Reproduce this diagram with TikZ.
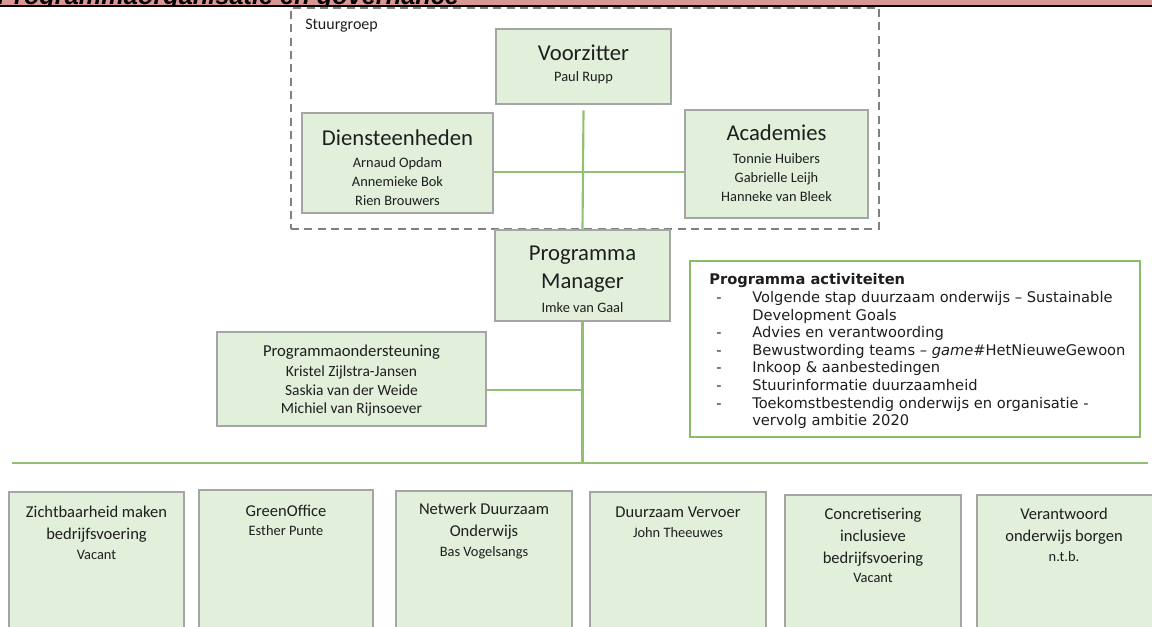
\documentclass[tikz,border=0pt]{standalone}
\usepackage{fontspec}
\setmainfont{Carlito}
\newfontfamily\actfont{DejaVu Sans}
\newfontfamily\barfont{Liberation Sans}
\usetikzlibrary{fit}
\newdimen\pxu \pxu=0.75pt
\definecolor{boxfill}{RGB}{226,239,218}
\definecolor{boxline}{RGB}{165,165,165}
\definecolor{linkgreen}{RGB}{145,192,115}
\definecolor{actline}{RGB}{135,188,105}
\definecolor{pinkbar}{RGB}{218,150,148}
\definecolor{dashgray}{RGB}{128,128,128}
\definecolor{ink}{RGB}{30,30,30}
\newcommand\bul{\makebox[43\pxu][l]{\hspace*{7\pxu}-}}
\tikzset{
  orgbox/.style={draw=boxline, line width=1.4pt, fill=boxfill, inner sep=0pt},
  link/.style={draw=linkgreen, line width=1.6pt},
  bigttl/.style={font=\fontsize{17}{21}\selectfont, text=ink, inner sep=0pt, align=center},
  nm/.style={font=\fontsize{10.8}{14.25}\selectfont, text=ink, inner sep=0pt, align=center},
  midttl/.style={font=\fontsize{12.4}{16.5}\selectfont, text=ink, inner sep=0pt, align=center},
  smallnm/.style={font=\fontsize{10.8}{14}\selectfont, text=ink, inner sep=0pt, align=center},
}
\begin{document}
\begin{tikzpicture}[x=0.75pt,y=-0.75pt]
\useasboundingbox (0,0) rectangle (1152,626);
\clip (0,0) rectangle (1152,626);
% title bar
\fill[pinkbar] (0,0) rectangle (1152,4.5);
\begin{scope}
  \clip (0,0) rectangle (1152,6.5);
  \node[anchor=base west, inner sep=0pt, font=\barfont\bfseries\itshape\fontsize{19}{22}\selectfont] (bar) at (-3,4) {Programmaorganisatie en governance};
\end{scope}
\fill[black] (0,4.5) rectangle (1152,6.5);

% Stuurgroep container
\coordinate (sgA) at (291,8);
\coordinate (sgB) at (879,229);
\node[fit=(sgA)(sgB), inner sep=0pt, draw=dashgray, line width=1.2pt, dash pattern=on 6pt off 4pt] (sg) {};
\node[anchor=west, inner sep=0pt, font=\fontsize{12}{14}\selectfont, text=ink] (sglab) at (305,26) {Stuurgroep};

% Voorzitter
\coordinate (vzA) at (496,29); \coordinate (vzB) at (671,104);
\node[orgbox, fit=(vzA)(vzB)] (vz) {};
\node[bigttl] (vzt) at (583.5,53) {Voorzitter};
\node[nm] (vzn) at (583.5,78) {Paul Rupp};

% Diensteenheden
\coordinate (deA) at (302,113); \coordinate (deB) at (493,213);
\node[orgbox, fit=(deA)(deB)] (de) {};
\node[bigttl] (det) at (397.5,138) {Diensteenheden};
\node[nm] (den) at (397.5,182) {Arnaud Opdam\\Annemieke Bok\\Rien Brouwers};

% Academies
\coordinate (acA) at (685,110); \coordinate (acB) at (868,218);
\node[orgbox, fit=(acA)(acB)] (ac) {};
\node[bigttl] (act) at (776.5,133) {Academies};
\node[nm] (acn) at (776.5,177.5) {Tonnie Huibers\\Gabrielle Leijh\\Hanneke van Bleek};

% Programma Manager
\coordinate (pmA) at (495,230); \coordinate (pmB) at (670,321);
\node[orgbox, fit=(pmA)(pmB)] (pm) {};
\node[bigttl] (pmt) at (582.5,269) {Programma\\Manager};
\node[nm] (pmn) at (582.5,308) {Imke van Gaal};

% Programmaondersteuning
\coordinate (poA) at (217,332); \coordinate (poB) at (486,426);
\node[orgbox, fit=(poA)(poB)] (po) {};
\node[font=\fontsize{12.5}{15}\selectfont, text=ink, inner sep=0pt] (pot) at (351.5,352) {Programmaondersteuning};
\node[font=\fontsize{11.6}{13.9}\selectfont, text=ink, inner sep=0pt, align=center] (pon) at (351.5,391) {Kristel Zijlstra-Jansen\\Saskia van der Weide\\Michiel van Rijnsoever};

% Programma activiteiten
\coordinate (paA) at (690,261); \coordinate (paB) at (1140,437);
\node[fit=(paA)(paB), inner sep=0pt, draw=actline, line width=1.5pt, fill=white] (pa) {};
\node[anchor=north west, inner sep=0pt, align=left, text=ink, font=\actfont\fontsize{11}{13.2}\selectfont] (patxt) at (709,273.5) {%
\textbf{Programma activiteiten}\\
\bul Volgende stap duurzaam onderwijs – Sustainable\\
\hspace*{43\pxu}Development Goals\\
\bul Advies en verantwoording\\
\bul Bewustwording teams – \textit{game}\#HetNieuweGewoon\\
\bul Inkoop \& aanbestedingen\\
\bul Stuurinformatie duurzaamheid\\
\bul Toekomstbestendig onderwijs en organisatie -\\
\hspace*{43\pxu}vervolg ambitie 2020};

% connectors
\coordinate (hc) at (583,172);
\draw[link] ([yshift=-4pt]vz.south) -- (pm.north);
\draw[link] (de.east |- hc) -- (ac.west |- hc);
\coordinate (bl) at (12,463);
\coordinate (br) at (1148,463);
\coordinate (pj) at (583,390);
\draw[link] (pm.south) -- (pm.south |- bl);
\draw[link] (po.east |- pj) -- (pm.south |- pj);
\draw[link] (bl) -- (br);

% bottom boxes
\coordinate (b1A) at (9,492);   \coordinate (b1B) at (184,640);
\coordinate (b2A) at (199,490); \coordinate (b2B) at (373,640);
\coordinate (b3A) at (396,491); \coordinate (b3B) at (572,640);
\coordinate (b4A) at (590,492); \coordinate (b4B) at (766,640);
\coordinate (b5A) at (785,495); \coordinate (b5B) at (961,640);
\coordinate (b6A) at (977,495); \coordinate (b6B) at (1156,640);
\node[orgbox, fit=(b1A)(b1B)] (b1) {};
\node[orgbox, fit=(b2A)(b2B)] (b2) {};
\node[orgbox, fit=(b3A)(b3B)] (b3) {};
\node[orgbox, fit=(b4A)(b4B)] (b4) {};
\node[orgbox, fit=(b5A)(b5B)] (b5) {};
\node[orgbox, fit=(b6A)(b6B)] (b6) {};

\node[midttl] (b1t) at (96.5,524) {Zichtbaarheid maken\\bedrijfsvoering};
\node[smallnm] (b1n) at (96.5,555) {Vacant};
\node[midttl] (b2t) at (286,511) {GreenOffice};
\node[smallnm] (b2n) at (286,531) {Esther Punte};
\node[midttl] (b3t) at (484,521.5) {Netwerk Duurzaam\\Onderwijs};
\node[smallnm] (b3n) at (484,553) {Bas Vogelsangs};
\node[midttl] (b4t) at (678,512) {Duurzaam Vervoer};
\node[smallnm] (b4n) at (678,533) {John Theeuwes};
\node[midttl] (b5t) at (873,537) {Concretisering\\inclusieve\\bedrijfsvoering};
\node[smallnm] (b5n) at (873,578) {Vacant};
\node[midttl] (b6t) at (1064,526) {Verantwoord\\onderwijs borgen};
\node[smallnm] (b6n) at (1064,557) {n.t.b.};
\end{tikzpicture}
\end{document}
